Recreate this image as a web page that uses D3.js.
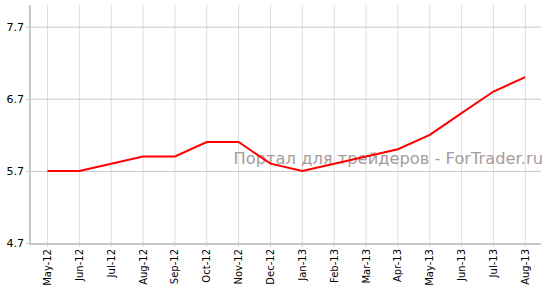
<!DOCTYPE html>
<html>
<head>
<meta charset="utf-8">
<script src="https://cdn.jsdelivr.net/npm/d3@7"></script>
<style>
  body { margin: 0; background: #fff; }
  svg { display: block; font-family: "DejaVu Sans", Verdana, sans-serif; }
</style>
</head>
<body>
<svg></svg>
<script>
var months = ["May-12", "Jun-12", "Jul-12", "Aug-12", "Sep-12", "Oct-12", "Nov-12", "Dec-12",
              "Jan-13", "Feb-13", "Mar-13", "Apr-13", "May-13", "Jun-13", "Jul-13", "Aug-13"];
var values = [5.7, 5.7, 5.8, 5.9, 5.9, 6.1, 6.1, 5.8, 5.7, 5.8, 5.9, 6.0, 6.2, 6.5, 6.8, 7.0];
var yTicks = [4.7, 5.7, 6.7, 7.7];

var w = 550,
    h = 293;

var padLeft = 30, padRight = 541, padTop = 5, padBottom = 243;

var vis = d3.select("svg")
    .attr("width", w)
    .attr("height", h);

var x = d3.scalePoint()
    .domain(months)
    .range([47.5, 525.3]);

var y = d3.scaleLinear()
    .domain([4.7, 8.0])
    .range([padBottom, padTop]);

// vertical grid
vis.append("g").selectAll("line")
    .data(months)
    .enter().append("line")
    .attr("x1", function(d) { return x(d); })
    .attr("x2", function(d) { return x(d); })
    .attr("y1", padTop)
    .attr("y2", padBottom + 4)
    .attr("stroke", "#dcdcdc")
    .attr("stroke-width", 1);

// horizontal grid
vis.append("g").selectAll("line")
    .data(yTicks)
    .enter().append("line")
    .attr("x1", padLeft - 4)
    .attr("x2", padRight)
    .attr("y1", function(d) { return y(d) + 0.5; })
    .attr("y2", function(d) { return y(d) + 0.5; })
    .attr("stroke", "#c8c8c8")
    .attr("stroke-width", 1);

// axis lines
vis.append("line")
    .attr("x1", padLeft).attr("x2", padLeft)
    .attr("y1", padTop).attr("y2", padBottom + 1)
    .attr("stroke", "#c8c8c8")
    .attr("stroke-width", 2);
vis.append("line")
    .attr("x1", padLeft - 1).attr("x2", padRight)
    .attr("y1", padBottom + 1).attr("y2", padBottom + 1)
    .attr("stroke", "#c8c8c8")
    .attr("stroke-width", 2);

// y labels
vis.append("g").selectAll("text")
    .data(yTicks)
    .enter().append("text")
    .attr("x", 24)
    .attr("y", function(d) { return y(d) + 4; })
    .attr("text-anchor", "end")
    .attr("font-size", 11)
    .attr("fill", "#000")
    .text(function(d) { return d.toFixed(1); });

// x labels
vis.append("g").selectAll("text")
    .data(months)
    .enter().append("text")
    .attr("transform", function(d) {
      return "translate(" + (x(d) + 3.5) + "," + (padBottom + 6) + ") rotate(-90)";
    })
    .attr("text-anchor", "end")
    .attr("font-size", 10)
    .attr("fill", "#000")
    .text(function(d) { return d; });

// watermark
vis.append("text")
    .attr("x", 543)
    .attr("y", 163.5)
    .attr("text-anchor", "end")
    .attr("font-size", 16.3)
    .attr("fill", "#a89c9c")
    .text("Портал для трейдеров - ForTrader.ru");

// line
var line = d3.line()
    .x(function(d, i) { return x(months[i]); })
    .y(function(d) { return y(d); });

vis.append("path")
    .datum(values)
    .attr("d", line)
    .attr("fill", "none")
    .attr("stroke", "#ff0000")
    .attr("stroke-width", 2);
</script>
</body>
</html>
